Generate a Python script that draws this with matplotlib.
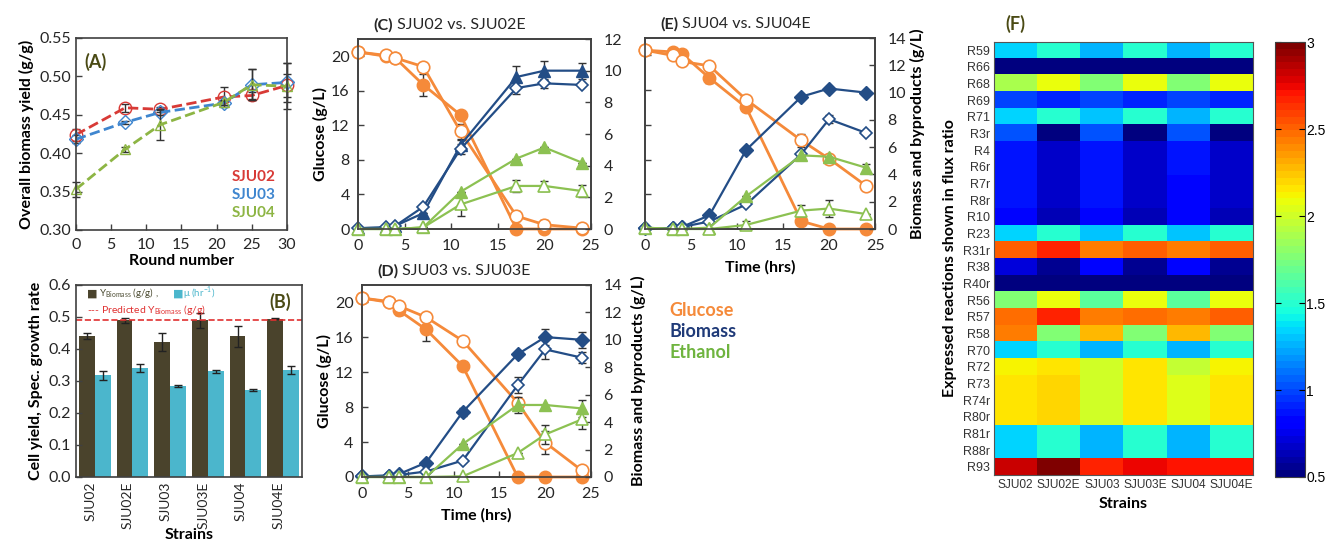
import numpy as np
import matplotlib
matplotlib.use("Agg")
import matplotlib.pyplot as plt
from matplotlib.ticker import FormatStrFormatter

plt.rcParams['font.family'] = ['Lato', 'DejaVu Sans']
plt.rcParams['mathtext.fontset'] = 'custom'
plt.rcParams['mathtext.rm'] = 'Lato'
plt.rcParams['axes.edgecolor'] = '#404040'
plt.rcParams['axes.linewidth'] = 1.2

# ---------- data ----------
# (A) overall biomass yield over adaptation rounds
rounds = [0, 7, 12, 21, 25, 30]
yield_sju02 = [0.424, 0.459, 0.457, 0.473, 0.475, 0.488]
yield_sju03 = [0.418, 0.440, 0.453, 0.465, 0.489, 0.492]
yield_sju04 = [0.353, 0.405, 0.437, 0.466, 0.489, 0.487]
err_sju02 = [0.008, 0.005, 0.003, 0.013, 0.005, 0.015]
err_sju03 = [0.005, 0.002, 0.003, 0.003, 0.020, 0.025]
err_sju04 = [0.010, 0.003, 0.020, 0.003, 0.020, 0.030]

# (B) cell yield and specific growth rate
strains = ['SJU02', 'SJU02E', 'SJU03', 'SJU03E', 'SJU04', 'SJU04E']
y_biomass = [0.440, 0.490, 0.421, 0.489, 0.440, 0.495]
y_biomass_err = [0.010, 0.008, 0.028, 0.022, 0.033, 0.002]
mu = [0.318, 0.341, 0.283, 0.330, 0.272, 0.334]
mu_err = [0.014, 0.013, 0.003, 0.005, 0.002, 0.012]
y_predicted = 0.49

# (C)-(E) fermentation profiles
time_h = [0, 3, 4, 7, 11, 17, 20, 24]

glu_c = [20.5, 20.0, 19.8, 16.7, 13.2, 0.0, 0.0, 0.0]
glu_ce = [20.5, 20.1, 19.8, 18.8, 11.3, 1.5, 0.5, 0.1]
bio_c = [0.05, 0.1, 0.2, 1.0, 5.3, 9.6, 10.0, 10.0]
bio_ce = [0.05, 0.1, 0.2, 1.4, 5.05, 8.9, 9.2, 9.1]
eth_c = [0.0, 0.0, 0.0, 0.1, 2.35, 4.45, 5.15, 4.2]
eth_ce = [0.0, 0.0, 0.0, 0.1, 1.55, 2.72, 2.72, 2.4]
glu_c_err = [0, 0, 0, 1.3, 0, 0, 0, 0]
glu_ce_err = [0, 0, 0, 0, 0.9, 0.6, 0.6, 0]
bio_c_err = [0, 0, 0, 0, 0.3, 0.7, 0.6, 0.5]
bio_ce_err = [0, 0, 0, 0, 0.3, 0.4, 0.3, 0]
eth_c_err = [0, 0, 0, 0, 0, 0, 0, 0]
eth_ce_err = [0, 0, 0, 0, 0.7, 0.4, 0.3, 0.35]

glu_d = [20.5, 20.0, 19.1, 16.9, 12.7, 0.0, 0.0, 0.0]
glu_de = [20.5, 20.1, 19.6, 18.3, 15.6, 8.5, 3.95, 0.75]
bio_d = [0.05, 0.1, 0.2, 1.05, 4.75, 8.95, 10.2, 10.0]
bio_de = [0.05, 0.1, 0.15, 0.4, 1.2, 6.7, 9.3, 8.7]
eth_d = [0.0, 0.0, 0.0, 0.0, 2.4, 5.25, 5.25, 5.0]
eth_de = [0.0, 0.0, 0.0, 0.0, 0.05, 1.75, 3.1, 4.2]
glu_d_err = [0, 0, 0.5, 1.3, 0, 0, 0, 0]
glu_de_err = [0, 0, 0, 0, 0, 0, 1.3, 0]
bio_d_err = [0, 0, 0, 0, 0.3, 0, 0.6, 0.6]
bio_de_err = [0, 0, 0, 0, 0, 0.6, 0.7, 0.4]
eth_d_err = [0, 0, 0, 0, 0, 0.6, 0, 0.6]
eth_de_err = [0, 0, 0, 0, 0, 0, 0.7, 0.7]

glu_e = [20.6, 20.4, 20.2, 17.4, 14.0, 0.9, 0.0, 0.0]
glu_ee = [20.6, 20.0, 19.3, 18.8, 14.9, 10.2, 8.1, 5.0]
bio_e = [0.05, 0.05, 0.15, 1.0, 5.8, 9.7, 10.3, 10.0]
bio_ee = [0.05, 0.05, 0.15, 0.55, 1.8, 5.5, 8.05, 7.05]
eth_e = [0.1, 0.0, 0.0, 0.1, 2.4, 5.4, 5.3, 4.5]
eth_ee = [0.1, 0.0, 0.0, 0.0, 0.3, 1.35, 1.5, 1.1]
glu_e_err = [0, 0, 0.3, 0.6, 0, 0, 0, 0]
glu_ee_err = [0.3, 0, 0, 0, 0.4, 0.8, 0.3, 0]
bio_e_err = [0, 0, 0, 0, 0, 0, 0, 0]
bio_ee_err = [0, 0, 0, 0, 0, 0, 0.3, 0]
eth_e_err = [0, 0, 0, 0, 0, 0, 0, 0.3]
eth_ee_err = [0, 0, 0, 0, 0.3, 0.4, 0.6, 0]

# (F) flux ratio heatmap
reactions = ['R59', 'R66', 'R68', 'R69', 'R71', 'R3r', 'R4', 'R6r', 'R7r', 'R8r',
             'R10', 'R23', 'R31r', 'R38', 'R40r', 'R56', 'R57', 'R58', 'R70',
             'R72', 'R73', 'R74r', 'R80r', 'R81r', 'R88r', 'R93']
flux_ratio = [
    [1.35, 1.50, 1.28, 1.50, 1.28, 1.50],
    [0.50, 0.50, 0.50, 0.50, 0.50, 0.50],
    [1.88, 2.08, 1.75, 2.08, 1.75, 2.08],
    [0.97, 0.90, 0.97, 0.90, 0.97, 0.90],
    [1.35, 1.50, 1.30, 1.50, 1.28, 1.48],
    [1.03, 0.53, 1.03, 0.53, 1.03, 0.53],
    [0.88, 0.66, 0.88, 0.66, 0.86, 0.66],
    [0.88, 0.66, 0.88, 0.66, 0.86, 0.66],
    [0.87, 0.66, 0.87, 0.66, 0.85, 0.66],
    [0.86, 0.66, 0.87, 0.66, 0.85, 0.66],
    [0.83, 0.64, 0.85, 0.64, 0.83, 0.64],
    [1.35, 1.50, 1.30, 1.50, 1.30, 1.50],
    [2.50, 2.65, 2.43, 2.50, 2.45, 2.50],
    [0.72, 0.55, 0.85, 0.55, 0.85, 0.55],
    [0.53, 0.53, 0.53, 0.53, 0.53, 0.53],
    [1.78, 2.08, 1.65, 2.08, 1.65, 2.08],
    [2.48, 2.65, 2.42, 2.48, 2.45, 2.50],
    [2.42, 1.78, 2.28, 1.78, 2.28, 1.78],
    [1.35, 1.48, 1.28, 1.48, 1.25, 1.48],
    [2.12, 2.16, 2.00, 2.15, 1.98, 2.12],
    [2.16, 2.20, 2.00, 2.16, 2.03, 2.16],
    [2.16, 2.20, 2.00, 2.16, 2.03, 2.16],
    [2.16, 2.20, 2.00, 2.16, 2.03, 2.16],
    [1.35, 1.48, 1.28, 1.48, 1.25, 1.48],
    [1.35, 1.48, 1.28, 1.48, 1.25, 1.48],
    [2.82, 2.97, 2.68, 2.75, 2.70, 2.70],
]

# ---------- colours ----------
c_red = '#d83a36'
c_blue = '#3f86cf'
c_green = '#8db544'
c_glu = '#f58a3a'
c_bio = '#234d86'
c_eth = '#8cc152'
c_dark = '#4a432c'
c_cyan = '#4bb6cc'
c_olive = '#4a4a14'
c_text = '#262626'

fig = plt.figure(figsize=(13.26, 5.41), dpi=100)


def style_axes(ax):
    ax.tick_params(direction='in', labelsize=11.5, colors='#404040',
                   labelcolor=c_text, length=4, width=1)


# ---------- (A) ----------
axA = fig.add_axes([0.0573, 0.575, 0.159, 0.355])
for y, e, col, mk in [(yield_sju02, err_sju02, c_red, 'o'),
                      (yield_sju03, err_sju03, c_blue, 'D'),
                      (yield_sju04, err_sju04, c_green, '^')]:
    axA.errorbar(rounds, y, yerr=e, fmt='none', ecolor='#333333',
                 elinewidth=1, capsize=3, clip_on=False)
    axA.plot(rounds, y, linestyle='--', color=col, lw=2, marker=mk,
             markersize=9 if mk == 'o' else 7, markerfacecolor='none',
             markeredgecolor=col, markeredgewidth=1, clip_on=False)
axA.set_xlim(0, 30)
axA.set_ylim(0.30, 0.55)
axA.set_xticks([0, 5, 10, 15, 20, 25, 30])
axA.set_yticks([0.30, 0.35, 0.40, 0.45, 0.50, 0.55])
axA.yaxis.set_major_formatter(FormatStrFormatter('%.2f'))
style_axes(axA)
axA.tick_params(axis='x', pad=6)
axA.set_xlabel('Round number', fontsize=11.5, fontweight='bold', labelpad=1)
axA.set_ylabel('Overall biomass yield (g/g)', fontsize=11.5, fontweight='bold')
axA.text(0.04, 0.92, '(A)', transform=axA.transAxes, fontsize=13,
         fontweight='bold', color=c_olive, va='top')
axA.text(0.945, 0.276, 'SJU02', transform=axA.transAxes, color=c_red,
         fontsize=11, fontweight='bold', ha='right', va='center')
axA.text(0.945, 0.182, 'SJU03', transform=axA.transAxes, color=c_blue,
         fontsize=11, fontweight='bold', ha='right', va='center')
axA.text(0.945, 0.088, 'SJU04', transform=axA.transAxes, color=c_green,
         fontsize=11, fontweight='bold', ha='right', va='center')

# ---------- (B) ----------
axB = fig.add_axes([0.0573, 0.1183, 0.1704, 0.355])
xb = np.arange(len(strains))
axB.bar(xb - 0.21, y_biomass, width=0.42, color=c_dark, yerr=y_biomass_err,
        error_kw=dict(ecolor='#222222', elinewidth=1, capsize=3))
axB.bar(xb + 0.21, mu, width=0.42, color=c_cyan, yerr=mu_err,
        error_kw=dict(ecolor='#222222', elinewidth=1, capsize=3))
axB.axhline(y_predicted, color='#e03030', linestyle='--', lw=1.2)
axB.set_xlim(-0.5, len(strains) - 0.5)
axB.set_ylim(0, 0.6)
axB.set_yticks(np.arange(0, 0.61, 0.1))
axB.yaxis.set_major_formatter(FormatStrFormatter('%.1f'))
axB.set_xticks(xb - 0.12)
axB.set_xticklabels(strains, rotation=90)
style_axes(axB)
axB.tick_params(axis='x', length=0, labelsize=10)
axB.set_xlabel('Strains', fontsize=11.5, fontweight='bold', labelpad=-1)
axB.set_ylabel('Cell yield, Spec. growth rate', fontsize=11.5, fontweight='bold')
axB.text(0.05, 0.958, '\u25a0', transform=axB.transAxes, color=c_dark,
         fontsize=8, va='center')
axB.text(0.10, 0.958, r'Y$_{\mathrm{Biomass}}$ (g/g) ,', transform=axB.transAxes,
         color='#4a4a30', fontsize=7, va='center')
axB.text(0.43, 0.958, '\u25a0', transform=axB.transAxes, color=c_cyan,
         fontsize=8, va='center')
axB.text(0.475, 0.958, '\u03bc (hr$^{-1}$)',
         transform=axB.transAxes, color=c_cyan, fontsize=7, va='center')
axB.text(0.05, 0.872, r'--- Predicted Y$_{\mathrm{Biomass}}$ (g/g)',
         transform=axB.transAxes, color='#e03030', fontsize=7.5, va='center')
axB.text(0.95, 0.91, '(B)', transform=axB.transAxes, fontsize=13,
         fontweight='bold', color=c_olive, va='center', ha='right')


# ---------- (C)-(E) ----------
def profile(rect, tag, title, glu, glu2, bio, bio2, eth, eth2, errs,
            bio_marker, right_max, left_labels=True, xlabel=False):
    ax = fig.add_axes(rect)
    ax2 = ax.twinx()
    g_err, g2_err, b_err, b2_err, e_err, e2_err = errs
    ax.errorbar(time_h, glu, yerr=g_err, fmt='none', ecolor='#333333',
                elinewidth=1, capsize=3)
    ax.errorbar(time_h, glu2, yerr=g2_err, fmt='none', ecolor='#333333',
                elinewidth=1, capsize=3)
    ax.plot(time_h, glu, color=c_glu, lw=2, marker='o', markersize=9,
            markerfacecolor=c_glu, markeredgecolor=c_glu, clip_on=False, zorder=3)
    ax.plot(time_h, glu2, color=c_glu, lw=2, marker='o', markersize=9,
            markerfacecolor='white', markeredgecolor=c_glu, markeredgewidth=1.2,
            clip_on=False, zorder=3)
    for vals, err in [(bio, b_err), (bio2, b2_err), (eth, e_err), (eth2, e2_err)]:
        ax2.errorbar(time_h, vals, yerr=err, fmt='none', ecolor='#333333',
                     elinewidth=1, capsize=3)
    ax2.plot(time_h, bio, color=c_bio, lw=1.6, marker=bio_marker,
             markersize=8 if bio_marker == '^' else 7, markerfacecolor=c_bio,
             markeredgecolor=c_bio, clip_on=False)
    ax2.plot(time_h, bio2, color=c_bio, lw=1.6, marker='D', markersize=6.5,
             markerfacecolor='white', markeredgecolor=c_bio, markeredgewidth=1.2,
             clip_on=False)
    ax2.plot(time_h, eth, color=c_eth, lw=1.6, marker='^', markersize=8.5,
             markerfacecolor=c_eth, markeredgecolor=c_eth, clip_on=False)
    ax2.plot(time_h, eth2, color=c_eth, lw=1.6, marker='^', markersize=8.5,
             markerfacecolor='white', markeredgecolor=c_eth, markeredgewidth=1.2,
             clip_on=False)
    ax.set_xlim(0, 25)
    ax.set_ylim(0, 22)
    ax.set_xticks([0, 5, 10, 15, 20, 25])
    ax.set_yticks([0, 4, 8, 12, 16, 20])
    ax2.set_ylim(0, right_max)
    ax2.set_yticks(np.arange(0, right_max + 1, 2))
    style_axes(ax)
    style_axes(ax2)
    ax.tick_params(axis='x', pad=7)
    ax.tick_params(axis='y', pad=6)
    ax2.tick_params(axis='y', pad=9)
    if left_labels:
        ax.set_ylabel('Glucose (g/L)', fontsize=11.5, fontweight='bold', labelpad=2)
    else:
        ax.tick_params(axis='y', labelleft=False)
    if xlabel:
        ax.set_xlabel('Time (hrs)', fontsize=11.5, fontweight='bold', labelpad=5)
    t = ax.text(0.065, 1.035, tag, transform=ax.transAxes, fontsize=11.5,
                fontweight='bold', color=c_text, va='bottom')
    ax.annotate(' ' + title, xy=(1, 0), xycoords=t, fontsize=11.5,
                color=c_text, va='bottom')
    return ax, ax2


profile([0.270, 0.5767, 0.1757, 0.3512], '(C)', 'SJU02 vs. SJU02E',
        glu_c, glu_ce, bio_c, bio_ce, eth_c, eth_ce,
        (glu_c_err, glu_ce_err, bio_c_err, bio_ce_err, eth_c_err, eth_ce_err),
        '^', 12)
axD, axD2 = profile([0.273, 0.1183, 0.1727, 0.355], '(D)', 'SJU03 vs. SJU03E',
                    glu_d, glu_de, bio_d, bio_de, eth_d, eth_de,
                    (glu_d_err, glu_de_err, bio_d_err, bio_de_err, eth_d_err, eth_de_err),
                    'D', 14, xlabel=True)
axD2.set_ylabel('Biomass and byproducts (g/L)', fontsize=11.5,
                fontweight='bold', labelpad=6)
axE, axE2 = profile([0.4864, 0.5767, 0.1735, 0.353], '(E)', 'SJU04 vs. SJU04E',
                    glu_e, glu_ee, bio_e, bio_ee, eth_e, eth_ee,
                    (glu_e_err, glu_ee_err, bio_e_err, bio_ee_err, eth_e_err, eth_ee_err),
                    'D', 14, left_labels=False, xlabel=True)
axE2.set_ylabel('Biomass and byproducts (g/L)', fontsize=11.5,
                fontweight='bold', labelpad=3)

fig.text(0.505, 0.415, 'Glucose', color=c_glu, fontsize=13, fontweight='bold')
fig.text(0.505, 0.377, 'Biomass', color='#1f3a78', fontsize=13, fontweight='bold')
fig.text(0.505, 0.338, 'Ethanol', color='#6fb43f', fontsize=13, fontweight='bold')

# ---------- (F) ----------
axF = fig.add_axes([0.7496, 0.122, 0.1953, 0.8004])
cmap = plt.get_cmap('jet', 64)
im = axF.imshow(np.array(flux_ratio), cmap=cmap, vmin=0.5, vmax=3,
                aspect='auto', interpolation='nearest')
axF.set_xticks(range(len(strains)))
axF.set_xticklabels(strains, family=['Liberation Sans'], fontsize=8.6)
axF.set_yticks(range(len(reactions)))
axF.set_yticklabels(reactions, family=['Liberation Sans'], fontsize=9)
axF.tick_params(length=0, colors='#333333', pad=3)
for s in axF.spines.values():
    s.set_color('#555555')
    s.set_linewidth(0.8)
axF.set_xlabel('Strains', fontsize=11.5, fontweight='bold', labelpad=4)
axF.set_ylabel('Expressed reactions shown in flux ratio', fontsize=11.5,
               fontweight='bold', labelpad=4)
fig.text(0.758, 0.945, '(F)', fontsize=13, fontweight='bold', color=c_olive)

cax = fig.add_axes([0.9615, 0.1183, 0.0226, 0.804])
cb = fig.colorbar(im, cax=cax, ticks=[0.5, 1, 1.5, 2, 2.5, 3])
cb.ax.set_yticklabels(['0.5', '1', '1.5', '2', '2.5', '3'],
                      family=['Liberation Sans'], fontsize=10)
cb.ax.tick_params(direction='in', length=4, left=True, pad=1)
cb.outline.set_linewidth(0.8)

fig.savefig('out.png', dpi=100)
